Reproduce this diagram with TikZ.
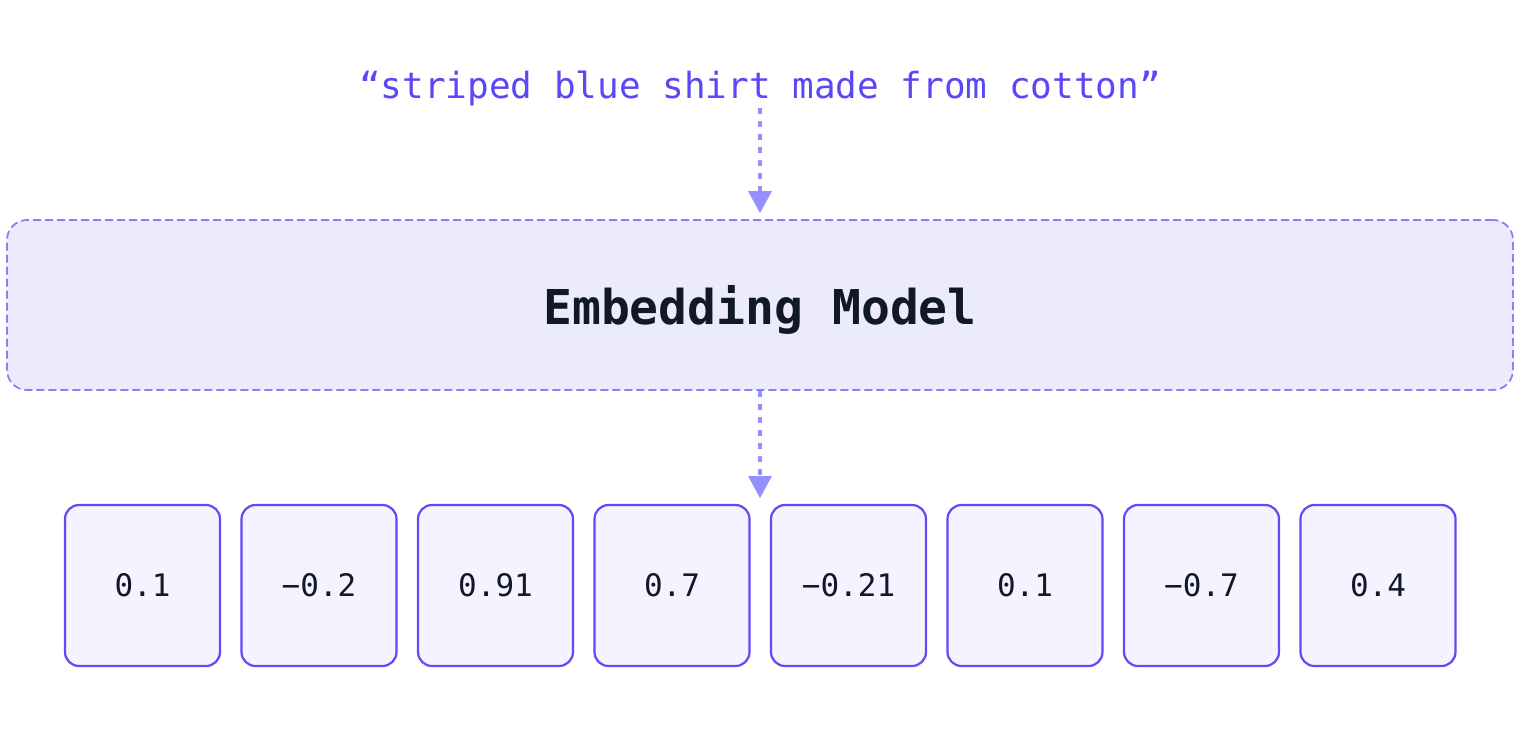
\documentclass[tikz,border=0pt]{standalone}
\usepackage{fontspec}
\setmonofont{DejaVu Sans Mono}
\usetikzlibrary{arrows.meta}
\definecolor{qtext}{HTML}{5B47F5}
\definecolor{arrowc}{HTML}{9490FF}
\definecolor{boxfill}{HTML}{EBEBFD}
\definecolor{boxdraw}{HTML}{8A80F5}
\definecolor{cellfill}{HTML}{F5F3FF}
\definecolor{celldraw}{HTML}{6447F5}
\definecolor{darktext}{HTML}{111827}
\tikzset{
  flowarrow/.style={draw=arrowc, line width=4pt, dash pattern=on 6pt off 7pt,
    -{Triangle[width=24pt,length=22pt,fill=arrowc,line width=0pt]}},
  modelbox/.style={draw=boxdraw, fill=boxfill, line width=1.8pt, dash pattern=on 8pt off 4pt,
    rounded corners=20pt, minimum width=1506pt, minimum height=170pt, inner sep=0pt,
    text depth=0pt,
    font=\fontsize{48}{56}\selectfont\ttfamily\bfseries, text=darktext},
  cellbox/.style={draw=celldraw, fill=cellfill, line width=2.2pt, rounded corners=14pt,
    minimum width=155pt, minimum height=161pt, inner sep=0pt,
    font=\fontsize{31}{36}\selectfont\ttfamily, text=darktext},
  querytext/.style={inner sep=0pt, font=\fontsize{36}{42}\selectfont\ttfamily, text=qtext}
}
\begin{document}
\begin{tikzpicture}[x=1pt,y=-1pt]
\useasboundingbox (0,0) rectangle (1520,734);
\node[querytext, anchor=base] (query) at (760,98) {“striped blue shirt made from cotton”};
\node[modelbox] (model) at (760,305) {Embedding Model};
\node[cellbox] (c1) at (142.5,585.5) {0.1};
\node[cellbox] (c2) at (319,585.5) {−0.2};
\node[cellbox] (c3) at (495.5,585.5) {0.91};
\node[cellbox] (c4) at (672,585.5) {0.7};
\node[cellbox] (c5) at (848.5,585.5) {−0.21};
\node[cellbox] (c6) at (1025,585.5) {0.1};
\node[cellbox] (c7) at (1201.5,585.5) {−0.7};
\node[cellbox] (c8) at (1378,585.5) {0.4};
\coordinate (qout) at (760,108);
\coordinate (vtop) at (760,498);
\draw[flowarrow, shorten >=6pt] (qout) -- (model.north);
\draw[flowarrow] (model.south) -- (vtop);
\end{tikzpicture}
\end{document}
